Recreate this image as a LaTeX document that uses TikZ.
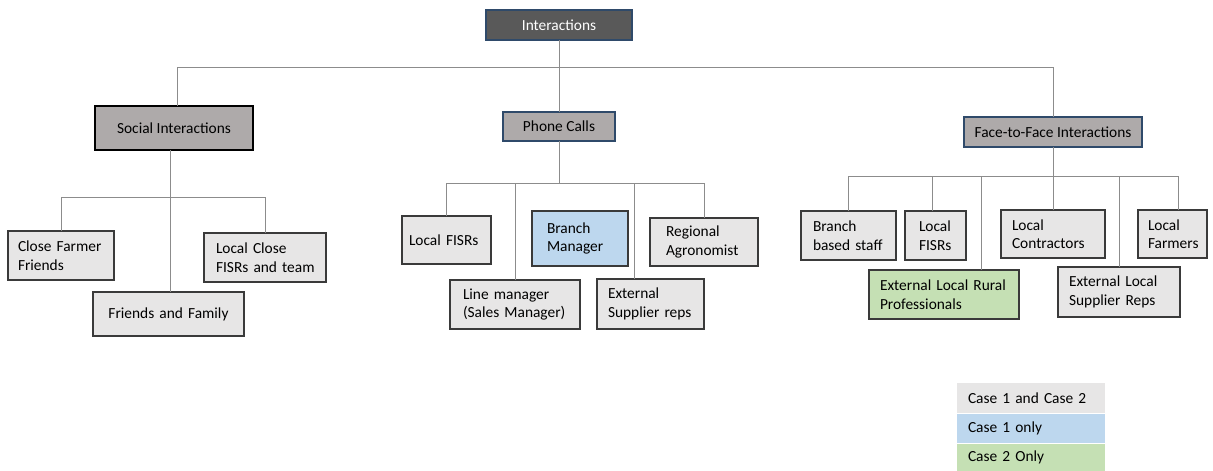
\documentclass[tikz,border=0pt]{standalone}
\usepackage{fontspec}
\setmainfont{Carlito}
\definecolor{rootfill}{HTML}{595959}
\definecolor{navyedge}{HTML}{2F4A6A}
\definecolor{midfill}{HTML}{AEAAAA}
\definecolor{leafgray}{HTML}{E7E6E6}
\definecolor{leafedge}{HTML}{3A3A3A}
\definecolor{caseone}{HTML}{BDD7EE}
\definecolor{casetwo}{HTML}{C5E0B4}
\definecolor{wire}{HTML}{8C8C8C}
\begin{document}
\begin{tikzpicture}[x=1pt,y=-1pt,
  font=\fontsize{15.4}{18.5}\selectfont,
  conn/.style={draw=wire, line width=0.9pt},
  box/.style={rectangle, inner ysep=0pt, outer sep=0pt, line width=1.1pt},
  rootbox/.style={box, fill=rootfill, draw=navyedge, text=white, align=center},
  midbox/.style={box, fill=midfill, draw=navyedge, align=center},
  leaf/.style={box, fill=leafgray, draw=leafedge, align=left},
  key/.style={rectangle, outer sep=0pt, inner ysep=0pt, inner xsep=11pt, text width=126pt, align=left, minimum width=148, anchor=center}
]
\useasboundingbox (0,0) rectangle (1213,471);

% top level and categories
\node[rootbox, minimum width=146, minimum height=30] (root) at (559,25) {Interactions};
\node[midbox, draw=black, minimum width=158, minimum height=44] (social) at (174,128) {Social Interactions};
\node[midbox, minimum width=112, minimum height=29] (phone) at (559,126.5) {Phone Calls};
\node[midbox, minimum width=178, minimum height=30] (f2f) at (1053,132) {Face-to-Face Interactions};

% social interactions
\node[leaf, minimum height=49, inner xsep=10, text width=86] (cff) at (61,255.5) {\mbox{Close Farmer}\\Friends};
\node[leaf, minimum height=49, inner xsep=12, text width=98] (lcf) at (265,257.5) {\mbox{Local Close}\\\mbox{FISRs and team}};
\node[leaf, minimum height=44, inner xsep=15, text width=121, align=center] (ff) at (168.5,314) {\mbox{Friends and Family}};

% phone calls
\node[leaf, minimum height=48, inner xsep=7, text width=75] (pfisr) at (446.5,240) {\mbox{Local FISRs}};
\node[leaf, minimum height=49, inner xsep=13, text width=104] (lm) at (515,304.5) {\mbox{Line manager}\\\mbox{(Sales Manager)}};
\node[leaf, fill=caseone, minimum height=55, inner xsep=15, text width=66] (bm) at (580,238.5) {Branch\\Manager};
\node[leaf, minimum height=50, inner xsep=11, text width=85] (esr) at (650.5,304) {External\\\mbox{Supplier reps}};
\node[leaf, minimum height=48, inner xsep=16, text width=76] (ra) at (704,242) {Regional\\Agronomist};

% face-to-face interactions
\node[leaf, minimum height=49, inner xsep=12, text width=71] (bbs) at (848.5,235.5) {Branch\\\mbox{based staff}};
\node[leaf, minimum height=49, inner xsep=14, text width=33] (ffisr) at (935.5,235.5) {Local\\FISRs};
\node[leaf, fill=casetwo, minimum height=49, inner xsep=11, text width=128] (elrp) at (944,294.5) {\mbox{External Local Rural}\\Professionals};
\node[leaf, minimum height=48, inner xsep=11, text width=82] (lc) at (1053,234) {Local\\Contractors};
\node[leaf, minimum height=50, inner xsep=11, text width=100] (elsr) at (1119,292) {\mbox{External Local}\\\mbox{Supplier Reps}};
\node[leaf, minimum height=48, inner xsep=10, text width=49] (lfar) at (1172.5,234) {Local\\Farmers};

% bus lines and taps
\coordinate (tsoc) at (177,67);
\coordinate (tf2f) at (1053,67);
\coordinate (sbus) at (170,197);
\coordinate (pbus) at (562,183);
\coordinate (tesr) at (634,183);
\coordinate (fbus) at (1053,176);
\coordinate (tffisr) at (932,176);
\coordinate (telrp) at (981,176);
\coordinate (tlfar) at (1178,176);

\draw[conn] (root.south) -- (phone.north);
\draw[conn] (tsoc |- social.north) -- (tsoc) -- (tf2f) -- (f2f.north);

\draw[conn] (sbus |- social.south) -- (sbus |- ff.north);
\draw[conn] (cff.north) -- (cff.north |- sbus) -- (lcf.north |- sbus) -- (lcf.north);

\draw[conn] (phone.south) -- (phone.south |- pbus);
\draw[conn] (pfisr.north) -- (pfisr.north |- pbus) -- (ra.north |- pbus) -- (ra.north);
\draw[conn] (lm.north |- pbus) -- (lm.north);
\draw[conn] (tesr) -- (tesr |- esr.north);

\draw[conn] (f2f.south) -- (lc.north);
\draw[conn] (bbs.north) -- (bbs.north |- fbus) -- (tlfar) -- (tlfar |- lfar.north);
\draw[conn] (tffisr) -- (tffisr |- ffisr.north);
\draw[conn] (telrp) -- (telrp |- elrp.north);
\draw[conn] (elsr.north |- fbus) -- (elsr.north);

% key
\node[key, fill=leafgray, minimum height=30] (k1) at (1031,398) {Case 1 and Case 2};
\node[key, fill=caseone, minimum height=29] (k2) at (1031,428) {Case 1 only};
\node[key, fill=casetwo, minimum height=27] (k3) at (1031,457.5) {Case 2 Only};
\end{tikzpicture}
\end{document}
